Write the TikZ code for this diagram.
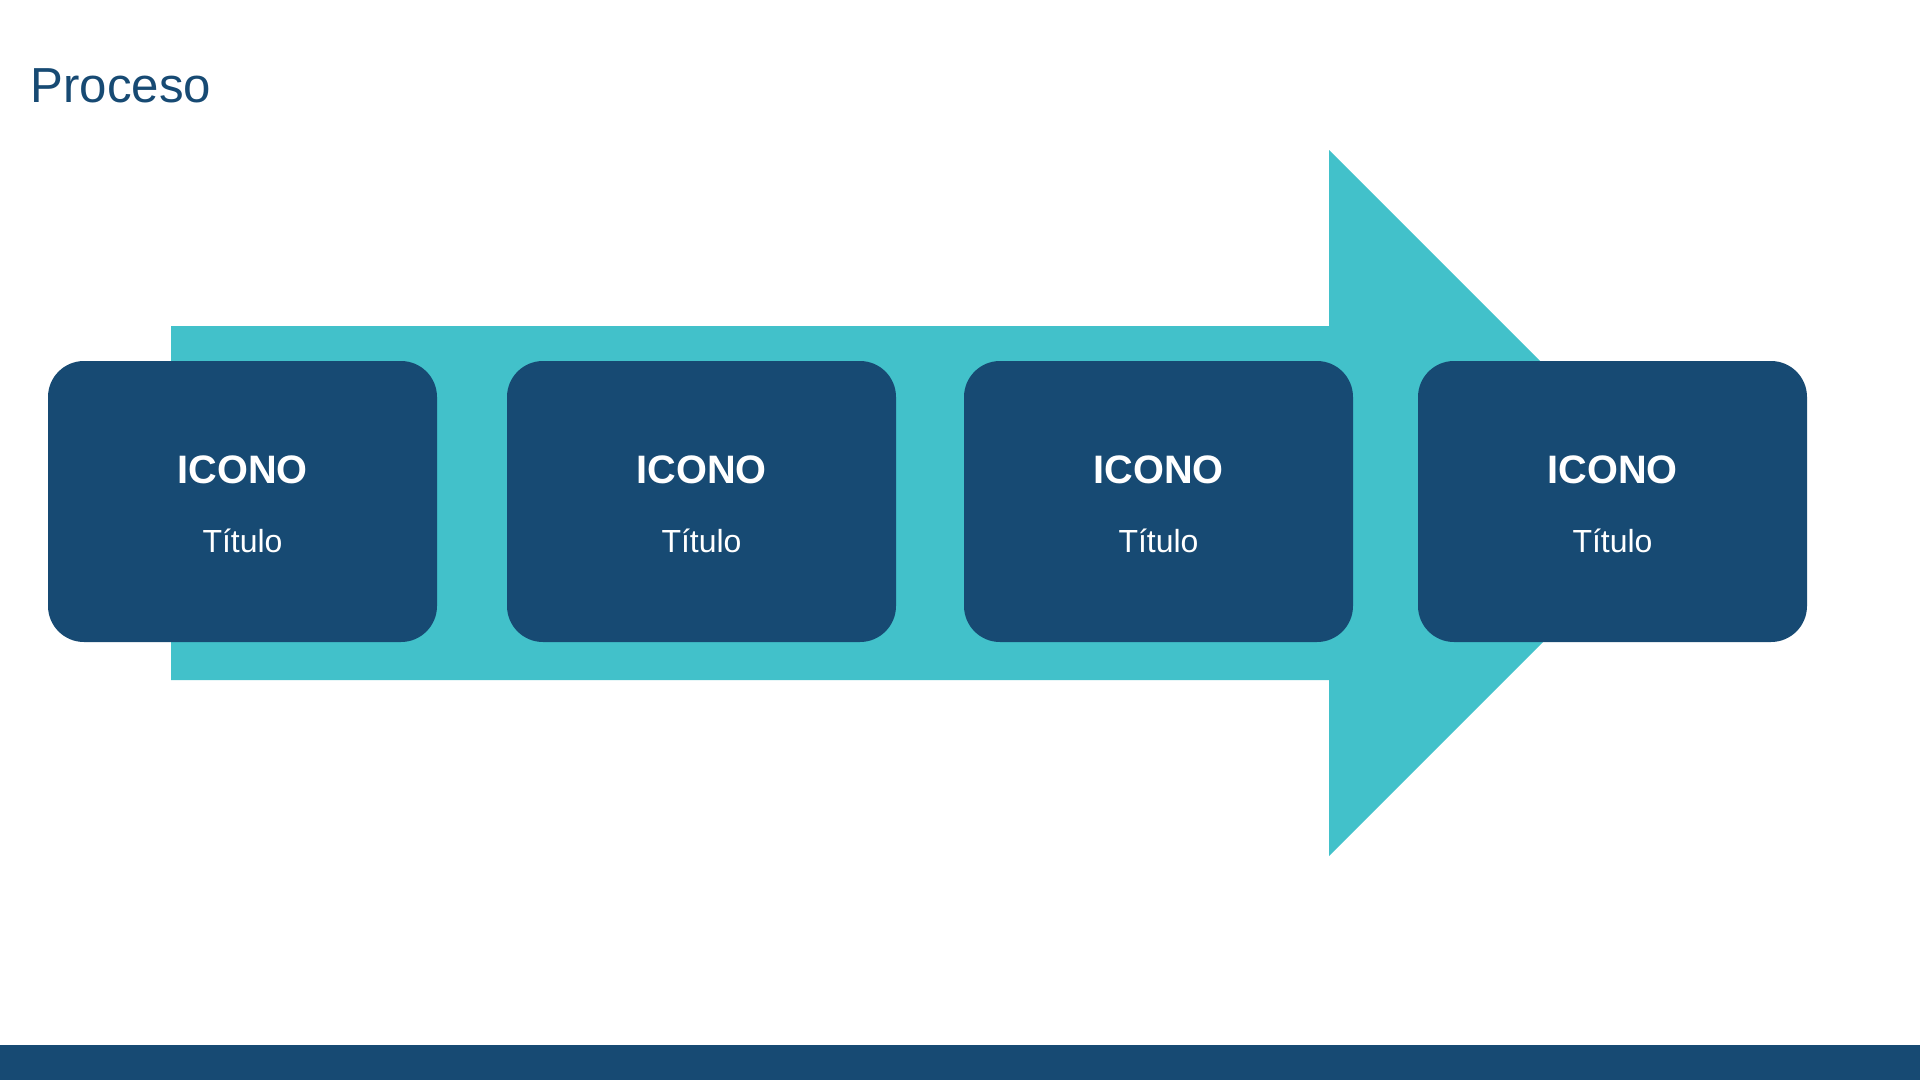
\documentclass[tikz,border=0pt]{standalone}
\usepackage{fontspec}
\setmainfont{Liberation Sans}
\usetikzlibrary{positioning}

\definecolor{navy}{RGB}{23,74,115}
\definecolor{teal}{RGB}{66,193,202}

\tikzset{
  stepcard/.style={fill=navy, rounded corners=3.6mm, minimum width=38.9mm,
    minimum height=28.1mm, inner sep=0pt},
  cardhead/.style={text=white, font=\fontsize{11.3}{13}\selectfont\bfseries, anchor=base},
  cardtitle/.style={text=white, font=\fontsize{9.1}{11}\selectfont, anchor=base}
}

\begin{document}
\begin{tikzpicture}[x=0.1mm, y=0.1mm]
  \useasboundingbox (0,0) rectangle (1920,1080);
  % Heading
  \node[anchor=base west, inner sep=0pt, text=navy,
    font=\fontsize{14}{16}\selectfont] (heading) at (30,978) {Proceso};
  % Big arrow behind the cards
  \fill[teal] (171,754) -- (1329,754) -- (1329,930) -- (1682,577)
    -- (1329,224) -- (1329,400) -- (171,400) -- cycle;
  % Cards
  \foreach \x/\n in {242.5/1, 701.5/2, 1158.5/3, 1612.5/4} {
    \node[stepcard] (card\n) at (\x,578.5) {};
    \node[cardhead] (icon\n) at (\x,597) {ICONO};
    \node[cardtitle] (title\n) at (\x,528) {Título};
  }
  % Footer band
  \fill[navy] (0,0) rectangle (1920,35);
\end{tikzpicture}
\end{document}
